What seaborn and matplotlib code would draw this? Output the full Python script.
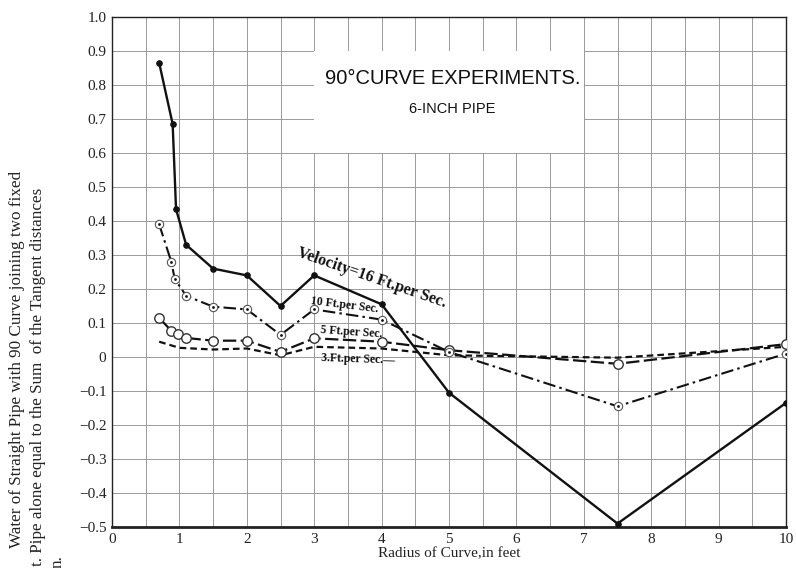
import matplotlib
matplotlib.use("Agg")
import matplotlib.pyplot as plt
import seaborn as sns
import pandas as pd
import numpy as np

# ---- data ----
x16 = [0.7, 0.9, 0.95, 1.1, 1.5, 2.0, 2.5, 3.0, 4.0, 5.0, 7.5, 10.0]
y16 = [0.865, 0.685, 0.435, 0.33, 0.26, 0.24, 0.15, 0.24, 0.155, -0.105, -0.49, -0.135]

x10 = [0.7, 0.88, 0.93, 1.1, 1.5, 2.0, 2.5, 3.0, 4.0, 5.0, 7.5, 10.0]
y10 = [0.39, 0.28, 0.23, 0.18, 0.148, 0.14, 0.065, 0.14, 0.11, 0.015, -0.145, 0.01]

x5 = [0.7, 0.88, 0.98, 1.1, 1.5, 2.0, 2.5, 3.0, 4.0, 5.0, 7.5, 10.0]
y5 = [0.115, 0.077, 0.068, 0.056, 0.048, 0.048, 0.015, 0.055, 0.045, 0.02, -0.02, 0.038]

x3 = [0.7, 1.0, 1.5, 2.0, 2.5, 3.0, 4.0, 5.0, 7.5, 10.0]
y3 = [0.045, 0.027, 0.022, 0.025, 0.005, 0.03, 0.025, 0.005, -0.002, 0.03]

xticks = [0, 1, 2, 3, 4, 5, 6, 7, 8, 9, 10]
yticks = [1.0, 0.9, 0.8, 0.7, 0.6, 0.5, 0.4, 0.3, 0.2, 0.1, 0.0, -0.1, -0.2, -0.3, -0.4, -0.5]
ytick_labels = ["1.0", "0.9", "0.8", "0.7", "0.6", "0.5", "0.4", "0.3", "0.2", "0.1",
                "0", "\u22120.1", "\u22120.2", "\u22120.3", "\u22120.4", "\u22120.5"]

title = "90\u00b0CURVE EXPERIMENTS."
subtitle = "6-INCH PIPE"
xlabel = "Radius of Curve,in feet"
ylabel1 = "Water of Straight Pipe with 90 Curve joining two fixed"
ylabel2 = "t. Pipe alone equal to the Sum  of the Tangent distances"
ylabel3 = "n."
lab16 = "Velocity=16 Ft.per Sec."
lab10 = "10 Ft.per Sec."
lab5 = "5 Ft.per Sec."
lab3 = "3.Ft.per Sec.\u2014"

sns.set_style("white")
plt.rcParams['font.family'] = ['Liberation Serif', 'DejaVu Serif']

fig = plt.figure(figsize=(7.96, 5.68), dpi=100)
L, R, T, B = 112, 786, 17, 527
ax = fig.add_axes([L / 796, 1 - B / 568, (R - L) / 796, (B - T) / 568])

df16 = pd.DataFrame({"x": x16, "y": y16})
df10 = pd.DataFrame({"x": x10, "y": y10})
df5 = pd.DataFrame({"x": x5, "y": y5})
df3 = pd.DataFrame({"x": x3, "y": y3})

ink = "#111111"
sns.lineplot(data=df3, x="x", y="y", ax=ax, sort=False, estimator=None, color=ink,
             lw=1.6, linestyle=(0, (3.0, 1.8)), zorder=3)
sns.lineplot(data=df5, x="x", y="y", ax=ax, sort=False, estimator=None, color=ink,
             lw=1.6, linestyle=(0, (6.0, 2.0)), marker="o", markersize=6.8,
             markerfacecolor="white", markeredgecolor="#333333", markeredgewidth=1.0, zorder=4)
sns.lineplot(data=df10, x="x", y="y", ax=ax, sort=False, estimator=None, color=ink,
             lw=1.5, linestyle=(0, (6.0, 2.0, 1.2, 2.0)), marker="o", markersize=6,
             markerfacecolor="white", markeredgecolor="#555555", markeredgewidth=0.8, zorder=5)
sns.scatterplot(data=df10, x="x", y="y", ax=ax, color=ink, s=4, linewidth=0, zorder=6)
sns.lineplot(data=df16, x="x", y="y", ax=ax, sort=False, estimator=None, color=ink,
             lw=1.7, marker="o", markersize=4, markerfacecolor=ink, markeredgecolor=ink, zorder=7)

ax.set_xlim(0, 10)
ax.set_ylim(-0.5, 1.0)
ax.set_xticks(xticks)
ax.set_xticks(np.arange(0.5, 10, 1.0), minor=True)
ax.set_yticks(yticks)
ax.set_yticklabels(ytick_labels)
ax.grid(True, which="both", color="#9a9a9a", lw=0.7)
ax.tick_params(axis="both", which="both", length=0, labelsize=11, colors="#222222", pad=4)
for s in ax.spines.values():
    s.set_color("#222222")
    s.set_linewidth(1.0)
ax.spines["bottom"].set_linewidth(2.0)
ax.set_xlabel(xlabel, fontsize=11, color="#222222", labelpad=1)
ax.set_ylabel("")

# title box
ax.fill_between([3.0, 7.0], 0.6, 0.9, color="white", zorder=2.5, lw=0)
ax.text(5.05, 0.82, title, ha="center", va="center", fontsize=14.5,
        family=["Liberation Sans", "DejaVu Sans"], color="#111111", zorder=8)
ax.text(5.05, 0.73, subtitle, ha="center", va="center", fontsize=10.5,
        family=["Liberation Sans", "DejaVu Sans"], color="#111111", zorder=8)

# series labels
ax.text(3.85, 0.232, lab16, ha="center", va="center", rotation=-19, fontsize=11.5,
        fontweight="bold", color="#111111", zorder=8)
ax.text(3.45, 0.153, lab10, ha="center", va="center", rotation=-7, fontsize=8.5,
        fontweight="bold", color="#111111", zorder=8)
ax.text(3.55, 0.074, lab5, ha="center", va="center", rotation=-4, fontsize=8.5,
        fontweight="bold", color="#111111", zorder=8)
ax.text(3.65, -0.006, lab3, ha="center", va="center", rotation=-2, fontsize=8.5,
        fontweight="bold", color="#111111", zorder=8)

# y label lines (cropped scan)
fig.text(17 / 796, 1 - 548 / 568, ylabel1, rotation=90, ha="center", va="bottom",
         fontsize=12.3, color="#222222")
fig.text(38 / 796, 1 - 566 / 568, ylabel2, rotation=90, ha="center", va="bottom",
         fontsize=12.3, color="#222222")
fig.text(58 / 796, 1 - 568 / 568, ylabel3, rotation=90, ha="center", va="bottom",
         fontsize=12.3, color="#222222")

fig.savefig("out.png", dpi=100, facecolor="white")
